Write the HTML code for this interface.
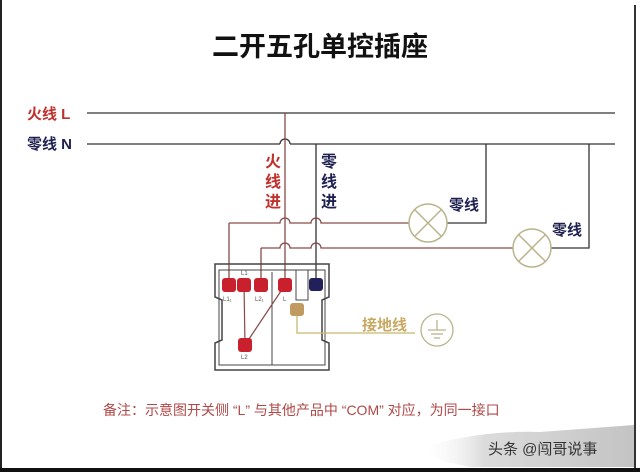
<!DOCTYPE html>
<html><head><meta charset="utf-8"><style>
html,body{margin:0;padding:0;background:#fff}
svg{display:block}
text{font-family:"Liberation Sans","Noto Sans CJK SC",sans-serif}
</style></head><body>
<svg width="640" height="472" viewBox="0 0 640 472" xmlns="http://www.w3.org/2000/svg">
<defs>
<linearGradient id="wm" x1="0" x2="1" y1="0" y2="0">
<stop offset="0" stop-color="#fff" stop-opacity="0"/>
<stop offset="0.3" stop-color="#ccc"/>
<stop offset="1" stop-color="#aaa"/>
</linearGradient>
</defs>
<rect width="640" height="472" fill="#fff"/>
<!-- frame -->
<rect x="0" y="0" width="2" height="472" fill="#222"/>
<rect x="634" y="5" width="2" height="467" fill="#333"/>
<rect x="0" y="468" width="640" height="4" fill="#111"/>
<!-- watermark bg -->
<path d="M420 448 Q480 430 540 432 L634 425 L634 467 L470 467 Q430 460 420 448Z" fill="url(#wm)" opacity="0.7"/>
<text x="320" y="56" text-anchor="middle" font-size="27" font-weight="bold" fill="#111">二开五孔单控插座</text>

<text x="27" y="119" font-size="15" font-weight="bold" fill="#c0302c">火线 L</text>
<text x="27" y="149" font-size="15" font-weight="bold" fill="#1e2050">零线 N</text>

<g fill="none" stroke="#333" stroke-width="1.3">
<line x1="87" y1="113" x2="615" y2="113"/>
<line x1="87" y1="144" x2="280" y2="144"/>
<path d="M280 144 A5 5 0 0 1 290 144"/>
<line x1="290" y1="144" x2="615" y2="144"/>
</g>
<g fill="none" stroke="#8b4a48" stroke-width="1.3">
<line x1="285" y1="113" x2="285" y2="278"/>
<line x1="229" y1="223" x2="229" y2="278"/>
<line x1="261" y1="248" x2="261" y2="278"/>
</g>
<line x1="316" y1="144" x2="316" y2="278" stroke="#333" stroke-width="1.3"/>
<g fill="none" stroke="#8b4a48" stroke-width="1.3">
<path d="M229 223 H280 A5 5 0 0 1 290 223 H311 A5 5 0 0 1 321 223 H409"/>
<path d="M261 248 H280 A5 5 0 0 1 290 248 H311 A5 5 0 0 1 321 248 H513"/>
</g>
<g fill="none" stroke="#333" stroke-width="1.3">
<path d="M447 223 H486 V144"/>
<path d="M551 248 H589 V144"/>
</g>
<g fill="#fff" stroke="#b8b48c" stroke-width="1.5">
<circle cx="428" cy="223" r="19"/>
<line x1="415" y1="210" x2="441" y2="236"/>
<line x1="441" y1="210" x2="415" y2="236"/>
<circle cx="532" cy="248" r="19"/>
<line x1="519" y1="235" x2="545" y2="261"/>
<line x1="545" y1="235" x2="519" y2="261"/>
</g>
<text x="449" y="210" font-size="15" font-weight="bold" fill="#1e2050">零线</text>
<text x="552" y="235" font-size="15" font-weight="bold" fill="#1e2050">零线</text>

<text x="265" y="167" font-size="16" font-weight="bold" fill="#c0302c">火</text>
<text x="265" y="187" font-size="16" font-weight="bold" fill="#c0302c">线</text>
<text x="265" y="207" font-size="16" font-weight="bold" fill="#c0302c">进</text>
<text x="321" y="167" font-size="16" font-weight="bold" fill="#1e2050">零</text>
<text x="321" y="187" font-size="16" font-weight="bold" fill="#1e2050">线</text>
<text x="321" y="207" font-size="16" font-weight="bold" fill="#1e2050">进</text>

<g fill="none" stroke="#444" stroke-width="1.5">
<path d="M215 264 H329 V297 L322 300 V340 L329 343 V370 H215 V343 L222 340 V300 L215 297 Z"/>
<path d="M219 270 H325 V365 H219 Z" stroke-width="1"/>
<line x1="272" y1="272" x2="272" y2="365" stroke-width="1"/>
<rect x="296" y="270" width="12" height="30" stroke-width="1"/>
</g>
<path d="M297 315 V333 H415" fill="none" stroke="#c8b870" stroke-width="1.3"/>
<text x="362" y="330" font-size="15" font-weight="bold" fill="#c8a860">接地线</text>
<circle cx="437" cy="330" r="16" fill="none" stroke="#b8b48c" stroke-width="1.3"/>
<g stroke="#b8b48c" stroke-width="1.3"><line x1="437" y1="320" x2="437" y2="330"/><line x1="428" y1="330" x2="446" y2="330"/><line x1="431" y1="334" x2="443" y2="334"/><line x1="434" y1="338" x2="440" y2="338"/></g>
<g stroke="#8b4a48" stroke-width="1.2">
<line x1="244" y1="285" x2="245" y2="345"/>
<line x1="285" y1="285" x2="245" y2="345"/>
</g>
<g fill="#c8202c">
<rect x="222" y="278" width="14" height="14" rx="3"/>
<rect x="237" y="278" width="14" height="14" rx="3"/>
<rect x="254" y="278" width="14" height="14" rx="3"/>
<rect x="278" y="278" width="14" height="14" rx="3"/>
<rect x="238" y="338" width="14" height="14" rx="3"/>
</g>
<rect x="309" y="278" width="14" height="13" rx="3" fill="#22205a"/>
<rect x="290" y="303" width="14" height="13" rx="3" fill="#c09a60"/>
<g font-size="6" fill="#555">
<text x="223" y="301">L1₁</text><text x="241" y="275">L1</text><text x="255" y="301">L2₁</text>
<text x="283" y="301">L</text><text x="241" y="359">L2</text>
</g>

<text x="103" y="415" font-size="14" fill="#b04848">备注：示意图开关侧 “L” 与其他产品中 “COM” 对应，为同一接口</text>
<text x="488" y="454" font-size="15" fill="#333">头条 @闯哥说事</text>
</svg>
</body></html>
